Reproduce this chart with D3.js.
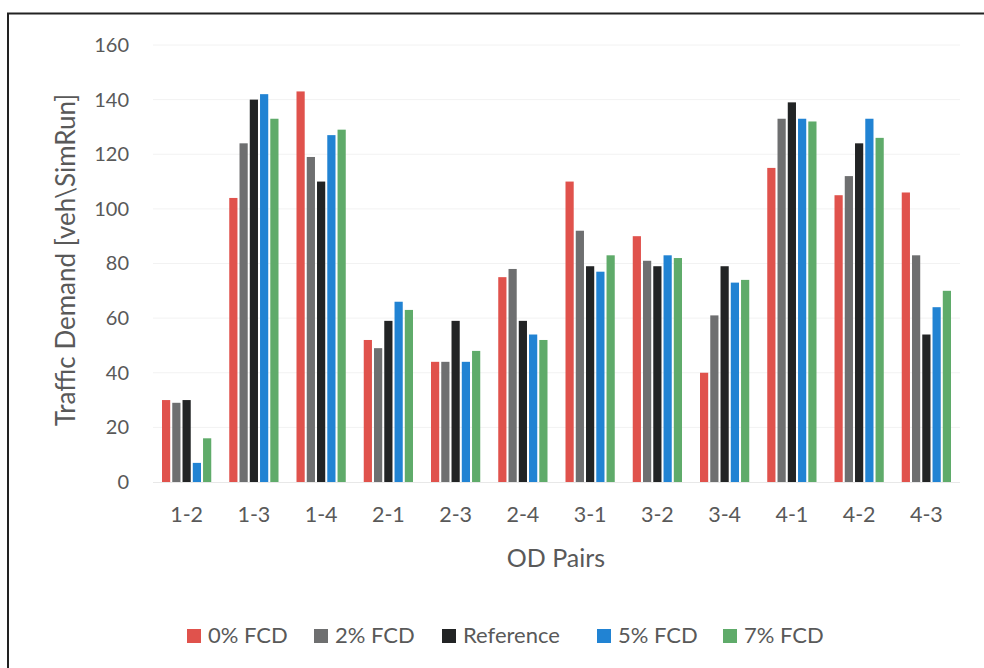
<!DOCTYPE html>
<html>
<head>
<meta charset="utf-8">
<script src="https://cdn.jsdelivr.net/npm/d3@7"></script>
<style>
  html, body { margin: 0; padding: 0; background: #fff; }
  svg text { font-family: Lato, "Open Sans", sans-serif; fill: #595959; }
</style>
</head>
<body>
<svg id="chart" width="984" height="668"></svg>
<script>
const categories = ["1-2","1-3","1-4","2-1","2-3","2-4","3-1","3-2","3-4","4-1","4-2","4-3"];
const seriesNames = ["0% FCD","2% FCD","Reference","5% FCD","7% FCD"];
const fcd0 = [30, 104, 143, 52, 44, 75, 110, 90, 40, 115, 105, 106];
const fcd2 = [29, 124, 119, 49, 44, 78, 92, 81, 61, 133, 112, 83];
const reference = [30, 140, 110, 59, 59, 59, 79, 79, 79, 139, 124, 54];
const fcd5 = [7, 142, 127, 66, 44, 54, 77, 83, 73, 133, 133, 64];
const fcd7 = [16, 133, 129, 63, 48, 52, 83, 82, 74, 132, 126, 70];
const yTicks = [0, 20, 40, 60, 80, 100, 120, 140, 160];
const colors = ["#e0524c", "#6e6f70", "#222425", "#2183d3", "#5fab6a"];

const seriesValues = [fcd0, fcd2, reference, fcd5, fcd7];

const svg = d3.select("#chart");

// outer frame
svg.append("path")
  .attr("d", "M8,700 L8,13.5 L990,13.5")
  .attr("fill", "none").attr("stroke", "#222").attr("stroke-width", 2);

const x0 = d3.scaleBand().domain(categories).range([153, 960]).paddingInner(0).paddingOuter(0);
const x1 = d3.scaleBand().domain(seriesNames).range([9, x0.bandwidth() - 9]).paddingInner(0.2).paddingOuter(0);
const y = d3.scaleLinear().domain([0, 160]).range([482, 45]);

// gridlines
svg.append("g").selectAll("line").data(yTicks.slice(1)).join("line")
  .attr("x1", 153).attr("x2", 960)
  .attr("y1", d => y(d)).attr("y2", d => y(d))
  .attr("stroke", "#f2f2f2").attr("stroke-width", 1);

// y axis labels
const yAxis = d3.axisLeft(y).tickValues(yTicks).tickSize(0).tickPadding(0);
const gy = svg.append("g").attr("transform", "translate(129,0)").call(yAxis);
gy.select(".domain").remove();
gy.selectAll("text").style("font-size", "20px").attr("fill", "#595959")
  .style("font-family", "Lato, sans-serif");

// bars
const groups = svg.append("g").selectAll("g").data(categories).join("g")
  .attr("transform", d => `translate(${x0(d)},0)`);
groups.selectAll("rect")
  .data((c, i) => seriesNames.map((s, j) => ({ s, j, v: seriesValues[j][i] })))
  .join("rect")
  .attr("x", d => x1(d.s))
  .attr("width", x1.bandwidth())
  .attr("y", d => y(d.v))
  .attr("height", d => y(0) - y(d.v))
  .attr("fill", d => colors[d.j]);

// baseline
svg.append("line").attr("x1", 153).attr("x2", 960).attr("y1", 482.5).attr("y2", 482.5)
  .attr("stroke", "#e8e8e8").attr("stroke-width", 1);

// x axis labels
const xAxis = d3.axisBottom(x0).tickSize(0).tickPadding(0);
const gx = svg.append("g").attr("transform", "translate(0,507)").call(xAxis);
gx.select(".domain").remove();
gx.selectAll("text").style("font-size", "21.5px").attr("fill", "#595959")
  .style("font-family", "Lato, sans-serif");

// axis titles
svg.append("text")
  .attr("transform", "translate(75,260) rotate(-90)")
  .attr("text-anchor", "middle")
  .style("font-size", "26px")
  .text("Traffic Demand [veh\\SimRun]");

svg.append("text")
  .attr("x", 556).attr("y", 567)
  .attr("text-anchor", "middle")
  .style("font-size", "25px")
  .text("OD Pairs");

// legend
const legendX = [187, 314, 442, 597, 723];
const lg = svg.append("g").selectAll("g").data(seriesNames).join("g")
  .attr("transform", (d, i) => `translate(${legendX[i]},629)`);
lg.append("rect").attr("width", 14).attr("height", 14).attr("fill", (d, i) => colors[i]);
lg.append("text").attr("x", 21).attr("y", 14).style("font-size", "22px").text(d => d);
</script>
</body>
</html>
